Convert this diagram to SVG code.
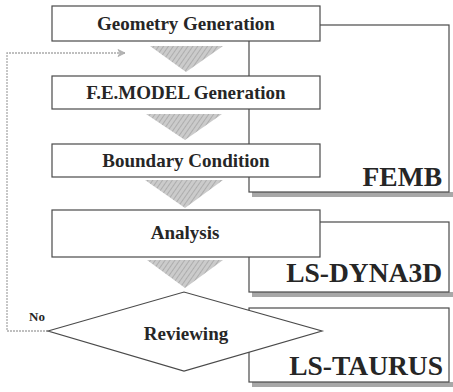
<svg xmlns="http://www.w3.org/2000/svg" width="453" height="392" viewBox="0 0 453 392">
<defs>
<style>
.box{fill:#fff;stroke:#4a4a4a;stroke-width:1.2}
.br{fill:#fff;stroke:#4a4a4a;stroke-width:1.2}
.sh{fill:#a8a8a8}
.tri{fill:url(#hatch);stroke:none}
.t{font-weight:bold;fill:#262626}
.bt{font-size:19px;text-anchor:middle}
.lt{font-size:27.5px;text-anchor:end}
.fb{fill:none;stroke:#aaaaaa;stroke-width:1.3;stroke-dasharray:2 1}
</style>
<pattern id="hatch" width="4" height="4" patternUnits="userSpaceOnUse" patternTransform="rotate(35)">
<rect width="4" height="4" fill="#cbcbcb"/>
<line x1="0" y1="0" x2="0" y2="4" stroke="#a3a3a3" stroke-width="1.5"/>
</pattern>
<marker id="arr" markerWidth="10" markerHeight="10" refX="8" refY="5" orient="auto" markerUnits="userSpaceOnUse">
<path d="M1,1.5 L8,5 L1,8.5 L3,5 Z" fill="#b5b5b5" stroke="#aaaaaa" stroke-width="0.8"/>
</marker>
</defs>

<g id="femb">
<rect class="sh" x="252" y="192" width="201" height="5"/>
<rect class="br" x="249" y="25" width="200" height="167"/>
<text class="t lt" font-family="Liberation Serif, serif" x="442" y="186">FEMB</text>
</g>
<g id="lsdyna">
<rect class="sh" x="252" y="292" width="201" height="5"/>
<rect class="br" x="249" y="222" width="200" height="70"/>
<text class="t lt" font-family="Liberation Serif, serif" x="442" y="282">LS-DYNA3D</text>
</g>
<g id="lstaurus">
<rect class="sh" x="252" y="382" width="201" height="5"/>
<rect class="br" x="249" y="308" width="200" height="74"/>
<text class="t lt" font-family="Liberation Serif, serif" x="443" y="375">LS-TAURUS</text>
</g>

<g id="connectors">
<path class="tri" d="M150,46 L223,46 L186,72 Z"/>
<path class="tri" d="M146,114 L222,114 L185,140 Z"/>
<path class="tri" d="M145,180 L223,180 L185,208 Z"/>
<path class="tri" d="M147,260 L223,260 L185,288 Z"/>
<path class="fb" d="M48,331 H7 V53 H125" marker-end="url(#arr)"/>
<text class="t" font-family="Liberation Serif, serif" x="29" y="321" font-size="13">No</text>
</g>

<g id="geometry">
<rect class="box" x="52" y="6" width="268" height="35"/>
<text class="t bt" font-family="Liberation Serif, serif" x="186" y="30">Geometry Generation</text>
</g>
<g id="femodel">
<rect class="box" x="52" y="76" width="268" height="33"/>
<text class="t bt" font-family="Liberation Serif, serif" x="186" y="99">F.E.MODEL Generation</text>
</g>
<g id="boundary">
<rect class="box" x="52" y="144" width="268" height="33"/>
<text class="t bt" font-family="Liberation Serif, serif" x="186" y="167">Boundary Condition</text>
</g>
<g id="analysis">
<rect class="box" x="52" y="210" width="268" height="47"/>
<text class="t bt" font-family="Liberation Serif, serif" x="185" y="239">Analysis</text>
</g>
<g id="reviewing">
<polygon class="box" points="48,331 184,292 322,331 184,371"/>
<text class="t bt" font-family="Liberation Serif, serif" x="186" y="340">Reviewing</text>
</g>
</svg>
